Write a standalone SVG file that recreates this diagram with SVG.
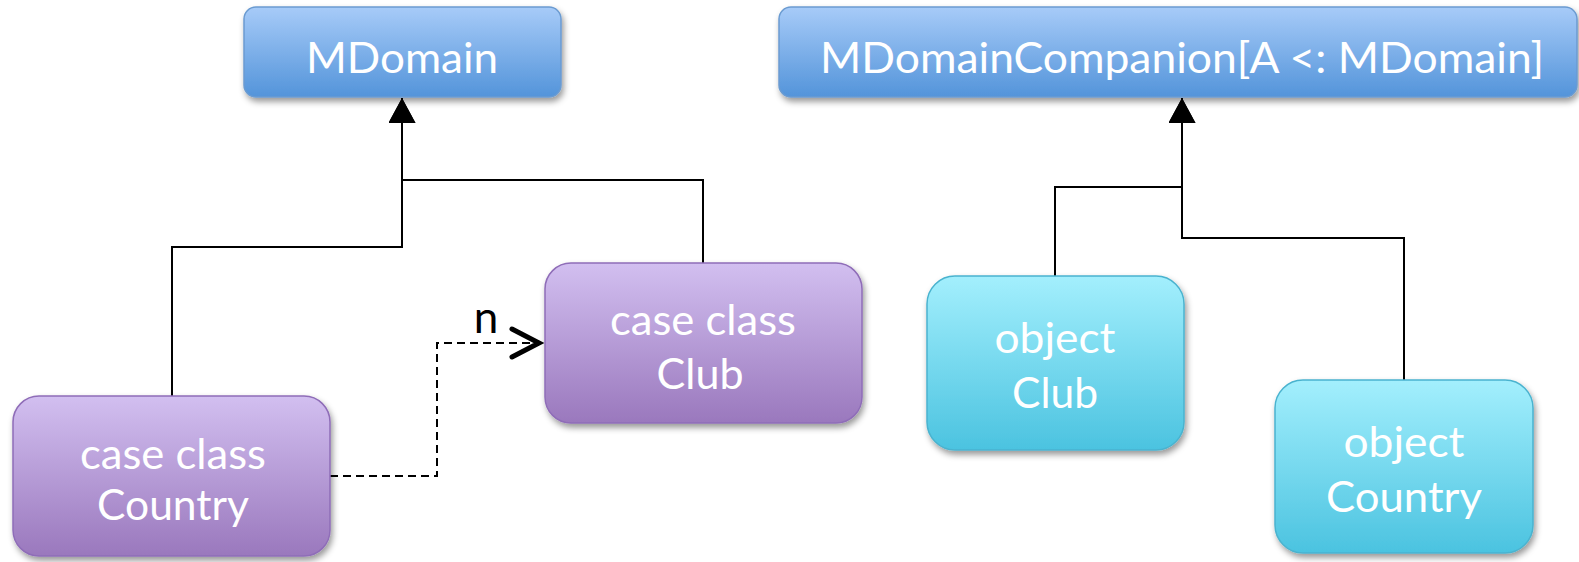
<svg xmlns="http://www.w3.org/2000/svg" width="1579" height="562" viewBox="0 0 1579 562">
<style>
.lbl{font-family:Lato,"Open Sans","Liberation Sans",sans-serif;font-size:43px;fill:#ffffff;text-anchor:middle}
.con{fill:none;stroke:#000;stroke-width:2}
.dash{fill:none;stroke:#000;stroke-width:2;stroke-dasharray:8 5}
.blue{fill:url(#gBlue);stroke:#6b9bd1;stroke-width:1.5}
.purple{fill:url(#gPurple);stroke:#8f6db8;stroke-width:1.5}
.cyan{fill:url(#gCyan);stroke:#4ab3cf;stroke-width:1.5}
.n{font-family:Lato,"Open Sans","Liberation Sans",sans-serif;font-size:44px;fill:#000;text-anchor:middle}
</style>
<defs>
<linearGradient id="gBlue" x1="0" y1="0" x2="0" y2="1"><stop offset="0" stop-color="#a7cbf8"/><stop offset="1" stop-color="#5394da"/></linearGradient>
<linearGradient id="gPurple" x1="0" y1="0" x2="0" y2="1"><stop offset="0" stop-color="#d2bff0"/><stop offset="1" stop-color="#9a78bd"/></linearGradient>
<linearGradient id="gCyan" x1="0" y1="0" x2="0" y2="1"><stop offset="0" stop-color="#a3effd"/><stop offset="1" stop-color="#4bc3e0"/></linearGradient>
<filter id="sh" x="-10%" y="-10%" width="125%" height="130%"><feDropShadow dx="2" dy="4" stdDeviation="3" flood-color="#000" flood-opacity="0.4"/></filter>
<marker id="tri" markerUnits="userSpaceOnUse" viewBox="0 0 25 27" refX="25" refY="13.5" markerWidth="25" markerHeight="27" orient="auto"><path d="M0,0 L25,13.5 L0,27 Z" fill="#000"/></marker>
<marker id="open" markerUnits="userSpaceOnUse" viewBox="-4 -4 36 36" refX="27" refY="14" markerWidth="36" markerHeight="36" orient="auto" overflow="visible"><path d="M0,0 L27,14 L0,28" fill="none" stroke="#000" stroke-width="5" stroke-linecap="round" stroke-linejoin="miter"/></marker>
</defs>
<g id="connectors">
<path class="con" d="M172,396 V247 H402 V98" marker-end="url(#tri)"/>
<path class="con" d="M703,263 V180 H402 V98" marker-end="url(#tri)"/>
<path class="con" d="M1055,276 V187 H1182 V98" marker-end="url(#tri)"/>
<path class="con" d="M1404,380 V238 H1182 V98" marker-end="url(#tri)"/>
<path class="dash" d="M330,476 H437 V343 H539" marker-end="url(#open)"/>
<text class="n" x="486" y="333">n</text>
</g>
<g id="MDomain">
<rect class="blue" x="244" y="7" width="317" height="90" rx="12" filter="url(#sh)"/>
<text class="lbl" x="402" y="73" textLength="192" lengthAdjust="spacingAndGlyphs">MDomain</text>
</g>
<g id="MDomainCompanion">
<rect class="blue" x="779" y="7" width="798" height="90" rx="12" filter="url(#sh)"/>
<text class="lbl" x="1182" y="73" textLength="724" lengthAdjust="spacingAndGlyphs">MDomainCompanion[A &lt;: MDomain]</text>
</g>
<g id="CaseClassClub">
<rect class="purple" x="545" y="263" width="317" height="160" rx="26" filter="url(#sh)"/>
<text class="lbl" x="703" y="335" textLength="186" lengthAdjust="spacingAndGlyphs">case class</text>
<text class="lbl" x="700" y="389" textLength="87" lengthAdjust="spacingAndGlyphs">Club</text>
</g>
<g id="CaseClassCountry">
<rect class="purple" x="13" y="396" width="317" height="160" rx="26" filter="url(#sh)"/>
<text class="lbl" x="173" y="469" textLength="186" lengthAdjust="spacingAndGlyphs">case class</text>
<text class="lbl" x="173" y="520" textLength="152" lengthAdjust="spacingAndGlyphs">Country</text>
</g>
<g id="ObjectClub">
<rect class="cyan" x="927" y="276" width="257" height="174" rx="28" filter="url(#sh)"/>
<text class="lbl" x="1055" y="353" textLength="121" lengthAdjust="spacingAndGlyphs">object</text>
<text class="lbl" x="1055" y="408" textLength="86" lengthAdjust="spacingAndGlyphs">Club</text>
</g>
<g id="ObjectCountry">
<rect class="cyan" x="1275" y="380" width="258" height="173" rx="28" filter="url(#sh)"/>
<text class="lbl" x="1404" y="457" textLength="121" lengthAdjust="spacingAndGlyphs">object</text>
<text class="lbl" x="1404" y="512" textLength="156" lengthAdjust="spacingAndGlyphs">Country</text>
</g>
</svg>
